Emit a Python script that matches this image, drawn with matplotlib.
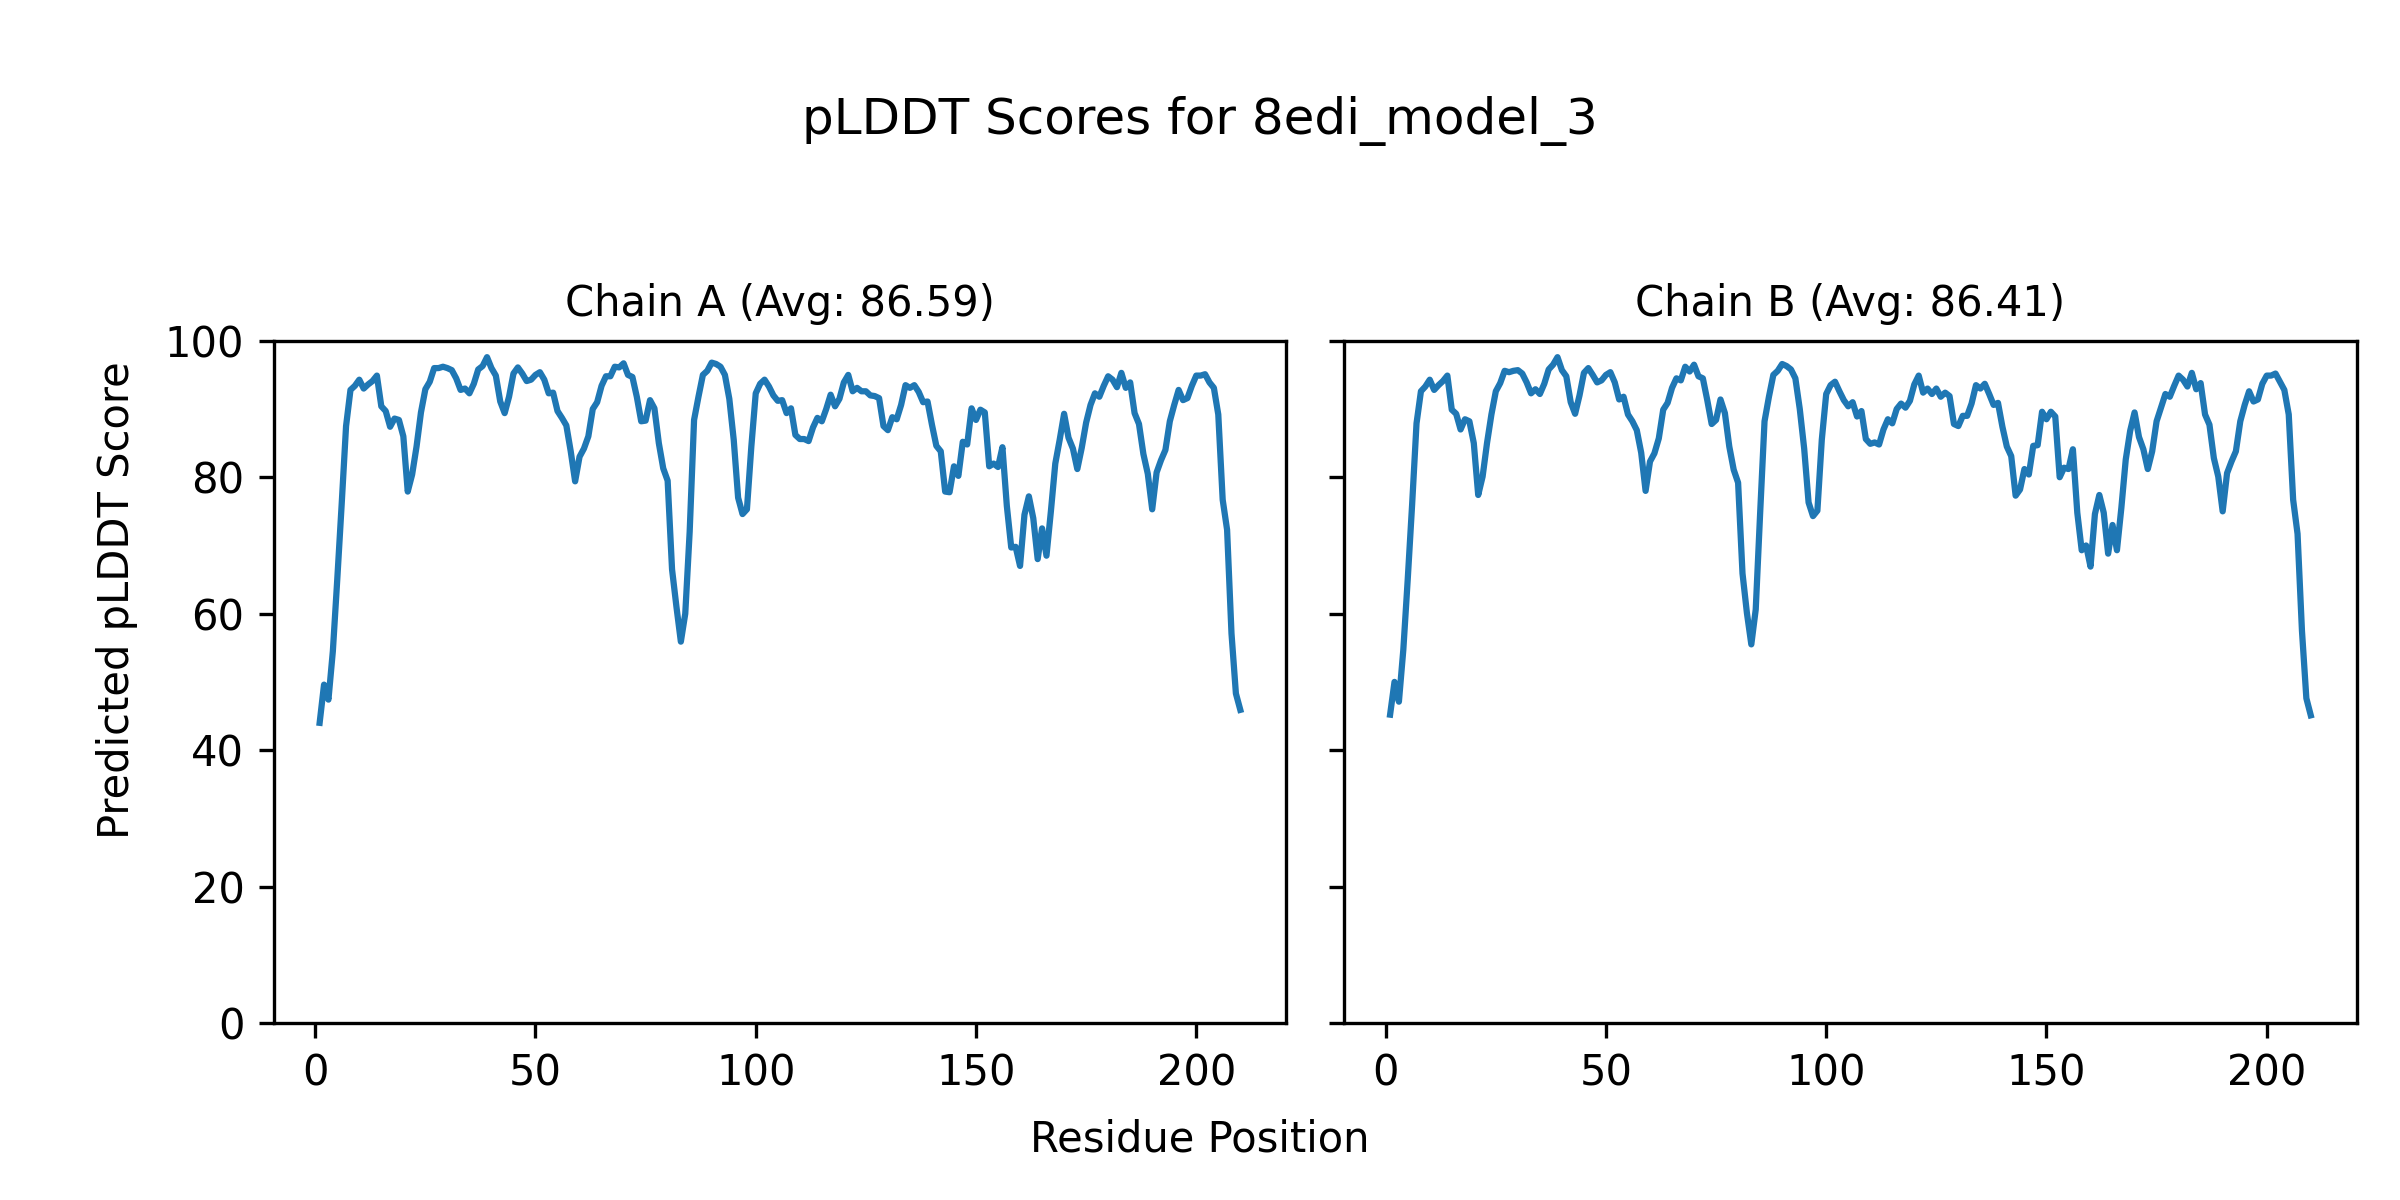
import numpy as np
import matplotlib
matplotlib.use("Agg")
import matplotlib.pyplot as plt

model_name = "8edi_model_3"

# pLDDT per residue
chain_a_plddt = [
    44.0, 49.6, 47.4, 54.5, 65.0, 76.0, 87.5, 92.8, 93.4, 94.3,
    93.0, 93.6, 94.1, 94.9, 90.4, 89.7, 87.4, 88.6, 88.4, 86.0,
    77.9, 80.4, 84.5, 89.5, 92.9, 94.0, 96.0, 96.0, 96.2, 96.0,
    95.7, 94.5, 92.8, 93.0, 92.3, 93.7, 95.8, 96.3, 97.6, 96.0,
    94.9, 91.1, 89.4, 91.8, 95.2, 96.1, 95.2, 94.1, 94.3, 95.0,
    95.4, 94.3, 92.3, 92.4, 89.7, 88.7, 87.6, 83.8, 79.4, 83.0,
    84.2, 86.0, 90.0, 91.0, 93.4, 94.8, 94.8, 96.2, 96.1, 96.7,
    95.0, 94.7, 91.8, 88.2, 88.3, 91.3, 90.1, 85.0, 81.3, 79.5,
    66.5, 61.0, 55.9, 60.0, 72.0, 88.4, 91.8, 95.0, 95.6, 96.8,
    96.6, 96.2, 95.0, 91.5, 85.5, 77.0, 74.6, 75.3, 84.5, 92.3,
    93.7, 94.3, 93.3, 92.0, 91.2, 91.3, 89.4, 90.1, 86.2, 85.6,
    85.6, 85.3, 87.3, 88.7, 88.2, 90.0, 92.1, 90.4, 91.5, 93.9,
    95.0, 92.6, 93.1, 92.6, 92.6, 92.0, 91.9, 91.6, 87.5, 86.9,
    88.8, 88.5, 90.6, 93.5, 93.1, 93.5, 92.5, 91.0, 91.1, 87.7,
    84.6, 83.8, 77.9, 77.8, 81.6, 80.2, 85.2, 84.8, 90.1, 88.4,
    89.9, 89.5, 81.6, 82.0, 81.5, 84.4, 75.8, 69.7, 69.8, 67.0,
    74.5, 77.2, 74.0, 68.0, 72.5, 68.5, 75.0, 82.0, 85.5, 89.3,
    85.8, 84.2, 81.2, 84.3, 88.0, 90.6, 92.3, 91.8, 93.4, 94.8,
    94.3, 93.2, 95.3, 93.1, 93.9, 89.4, 87.8, 83.4, 80.5, 75.3,
    80.7, 82.5, 84.0, 88.2, 90.6, 92.8, 91.3, 91.6, 93.4, 94.9,
    94.9, 95.1, 93.9, 93.1, 89.2, 76.7, 72.3, 57.1, 48.3, 45.9,
]

chain_b_plddt = [
    45.2, 50.0, 47.1, 54.7, 65.0, 76.0, 87.9, 92.6, 93.3, 94.3,
    92.8, 93.5, 94.1, 94.9, 89.9, 89.3, 87.0, 88.5, 88.2, 85.0,
    77.4, 80.1, 85.0, 89.2, 92.6, 93.8, 95.6, 95.4, 95.6, 95.7,
    95.2, 93.9, 92.3, 92.9, 92.2, 93.7, 95.8, 96.5, 97.6, 95.7,
    94.8, 91.0, 89.3, 92.0, 95.3, 96.0, 95.0, 93.9, 94.2, 95.0,
    95.4, 93.9, 91.4, 91.8, 89.2, 88.2, 86.9, 83.6, 78.0, 82.3,
    83.5, 85.7, 89.9, 90.9, 93.1, 94.5, 94.2, 96.2, 95.5, 96.5,
    94.8, 94.5, 91.3, 87.8, 88.4, 91.4, 89.4, 84.5, 81.1, 79.2,
    65.9, 60.1, 55.5, 60.6, 74.7, 88.2, 91.8, 95.0, 95.6, 96.6,
    96.3, 95.8, 94.5, 90.0, 84.2, 76.3, 74.3, 75.1, 85.5, 92.2,
    93.5, 94.0, 92.6, 91.3, 90.4, 91.0, 88.9, 89.7, 85.6, 84.9,
    85.1, 84.8, 87.0, 88.5, 87.9, 90.0, 90.8, 90.2, 91.2, 93.6,
    94.9, 92.4, 93.0, 92.2, 93.0, 91.8, 92.4, 91.9, 87.8, 87.5,
    89.0, 89.0, 90.8, 93.5, 93.0, 93.7, 92.2, 90.6, 90.9, 87.4,
    84.5, 83.1, 77.3, 78.2, 81.2, 80.4, 84.6, 84.7, 89.6, 88.5,
    89.6, 88.9, 80.0, 81.4, 81.2, 84.1, 74.8, 69.3, 70.0, 66.9,
    74.6, 77.4, 74.8, 68.8, 73.0, 69.3, 75.5, 82.6, 86.8, 89.5,
    85.9, 84.1, 81.2, 83.8, 88.2, 90.2, 92.2, 91.8, 93.4, 94.9,
    94.3, 93.3, 95.3, 92.9, 93.8, 89.2, 87.7, 82.8, 80.1, 75.0,
    80.6, 82.3, 83.8, 88.2, 90.6, 92.6, 91.1, 91.4, 93.7, 94.9,
    94.9, 95.2, 94.0, 92.8, 89.2, 76.7, 71.7, 57.5, 47.6, 45.1,
]

chains = ["A", "B"]
chain_avgs = [86.59, 86.41]

fig, axes = plt.subplots(1, 2, figsize=(8, 4), dpi=300, sharey=True)
fig.subplots_adjust(left=0.114, right=0.982, bottom=0.1475, top=0.716, wspace=0.057)

for ax, chain, avg, scores in zip(axes, chains, chain_avgs, [chain_a_plddt, chain_b_plddt]):
    residues = np.arange(1, len(scores) + 1)
    ax.plot(residues, scores)
    ax.set_title(f"Chain {chain} (Avg: {avg:.2f})", fontsize=10)
    ax.set_ylim(0, 100)

fig.suptitle(f"pLDDT Scores for {model_name}", fontsize=12, y=0.888, va="baseline")
fig.text(0.5, 0.04, "Residue Position", ha="center")
fig.text(0.04, 0.5, "Predicted pLDDT Score", va="center", rotation="vertical")

plt.savefig("out.png")
